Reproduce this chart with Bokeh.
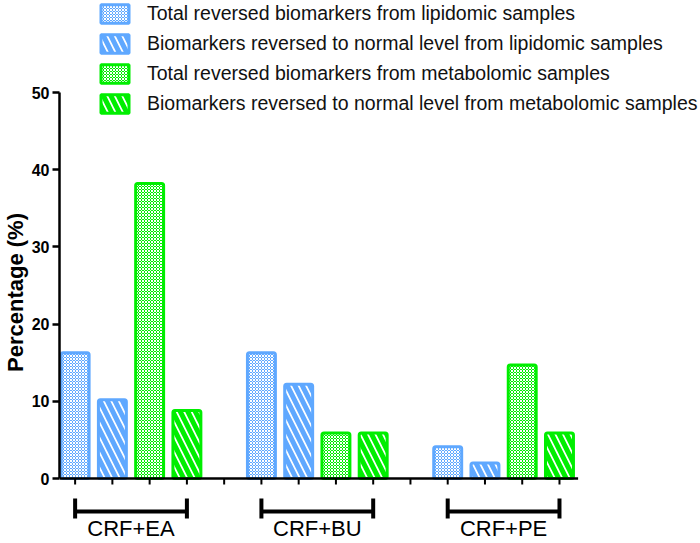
from bokeh.plotting import figure
from bokeh.models import Range1d, FixedTicker, Legend, LegendItem, ColumnDataSource, Title
from bokeh.embed import file_html
from bokeh.resources import INLINE
from bokeh.core.properties import value

# ---- data ----
groups = ["CRF+EA", "CRF+BU", "CRF+PE"]
series_labels = [
    "Total reversed biomarkers from lipidomic samples",
    "Biomarkers reversed to normal level from lipidomic samples",
    "Total reversed biomarkers from metabolomic samples",
    "Biomarkers reversed to normal level from metabolomic samples",
]
lipid_total = [16.3, 16.3, 4.1]
lipid_normal = [10.2, 12.2, 2.0]
metab_total = [38.2, 5.9, 14.7]
metab_normal = [8.8, 5.9, 5.9]
y_ticks = [0, 10, 20, 30, 40, 50]
y_label = "Percentage (%)"

series_values = [lipid_total, lipid_normal, metab_total, metab_normal]
BLUE = "#5FA8FF"
GREEN = "#00EE00"
series_colors = [BLUE, BLUE, GREEN, GREEN]
series_kind = ["checker", "stripe", "checker", "stripe"]

n_series = len(series_values)
slot_per_group = n_series + 1
n_slots = len(groups) * slot_per_group - 1

# ---- layout constants (page pixels) ----
W, H = 700, 543
ORG = 0                 # canvas origin on the page
ZERO_Y = 478            # page y of value 0
UNIT = (478 - 92) / 50.0
SLOT = 37.2             # px per slot
X0_PAGE = 57            # page x of slot axis start
L_PAGE = 60             # expected frame left (page)

def py(px_below_zero):
    return -px_below_zero / UNIT

y_start = -(ORG + H - ZERO_Y) / UNIT
y_end = (ZERO_Y - ORG) / UNIT
x_start = (L_PAGE - X0_PAGE) / SLOT
x_end = x_start + (ORG + W - L_PAGE) / SLOT

p = figure(width=W, height=H, output_backend="svg", toolbar_location=None,
           x_range=Range1d(x_start, x_end), y_range=Range1d(y_start, y_end),
           min_border_left=0, min_border_right=0, min_border_top=0, min_border_bottom=0,
           x_axis_location=None, title_location=None)
p.xgrid.visible = False
p.ygrid.visible = False
p.outline_line_color = None
p.background_fill_color = "white"

yax = p.yaxis[0]
yax.bounds = (0, 50)
yax.ticker = FixedTicker(ticks=y_ticks)
yax.minor_tick_line_color = None
yax.axis_line_width = 2.5
yax.major_tick_line_width = 2.5
yax.major_tick_out = 7
yax.major_tick_in = 0
yax.axis_line_color = "black"
yax.major_tick_line_color = "black"
yax.major_label_text_font = "Liberation Sans"
yax.major_label_text_font_style = "bold"
yax.major_label_text_font_size = "16px"
yax.major_label_text_color = "black"
yax.major_label_standoff = 3

title_px = 22
title_len = 7.224 * title_px
ytitle = Title(text=y_label, align="left", text_font="Liberation Sans",
               text_font_style="bold", text_font_size="%dpx" % title_px, text_color="black",
               offset=(ORG + H) - (292 + title_len / 2.0), standoff=1)
p.add_layout(ytitle, "left")

items = []
for s, (vals, col, kind, lab) in enumerate(zip(series_values, series_colors, series_kind, series_labels)):
    xs = [g * slot_per_group + s + 0.5 for g in range(len(groups))]
    src = ColumnDataSource(dict(x=xs, top=vals))
    if kind == "checker":
        r = p.vbar(x="x", top="top", width=0.75, bottom=0, source=src,
                   fill_color=col, line_color=col, line_width=3,
                   hatch_pattern="diagonal_cross", hatch_color="white",
                   hatch_scale=3, hatch_weight=1, border_radius=2)
    else:
        r = p.vbar(x="x", top="top", width=0.75, bottom=0, source=src,
                   fill_color="white", line_color=col, line_width=3,
                   hatch_pattern="left_diagonal_line", hatch_color=col,
                   hatch_scale=15, hatch_weight=5, border_radius=2)
    items.append(LegendItem(label=lab, renderers=[r]))

# x axis line and ticks
slots = [i + 0.5 for i in range(n_slots)]
p.segment(x0=[x_start], y0=[0], x1=[n_slots], y1=[0], line_color="black", line_width=2.5)
p.segment(x0=slots, y0=[0] * n_slots, x1=slots, y1=[py(6)] * n_slots,
          line_color="black", line_width=2)

# group brackets and labels
ng = len(groups)
gx0 = [g * slot_per_group + 0.5 for g in range(ng)]
gx1 = [g * slot_per_group + n_series - 0.5 for g in range(ng)]
gxc = [g * slot_per_group + n_series / 2.0 for g in range(ng)]
p.segment(x0=gx0, y0=[py(33)] * ng, x1=gx1, y1=[py(33)] * ng, line_color="black", line_width=4)
p.segment(x0=gx0 + gx1, y0=[py(20)] * (2 * ng), x1=gx0 + gx1, y1=[py(40)] * (2 * ng),
          line_color="black", line_width=4)
p.text(x=gxc, y=[py(50)] * ng, text=groups, text_align="center", text_baseline="middle",
       text_font=value("Liberation Sans"), text_font_size="22px", text_color="black")

legend = Legend(items=items, location=(98 - L_PAGE, ORG + H - 115), orientation="vertical",
                padding=0, margin=0, spacing=7, glyph_width=35, glyph_height=23,
                label_height=23, label_standoff=15,
                label_text_font="Liberation Sans", label_text_font_size="19.5px",
                label_text_color="#111111", border_line_color=None,
                background_fill_alpha=0)
p.add_layout(legend, "center")

open("out.html", "w").write(file_html(p, INLINE))
